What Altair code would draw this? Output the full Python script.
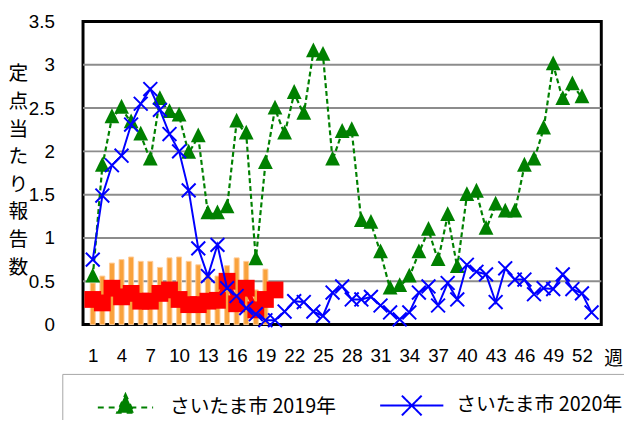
import altair as alt
import pandas as pd

# ---------------- data ----------------
weeks_2019 = list(range(1, 53))
values_2019 = [0.55, 1.83, 2.39, 2.50, 2.33, 2.19, 1.90, 2.60, 2.45, 2.41,
               1.98, 2.17, 1.28, 1.28, 1.35, 2.34, 2.20, 0.75, 1.86, 2.49,
               2.20, 2.67, 2.43, 3.15, 3.11, 1.90, 2.22, 2.24, 1.19, 1.17,
               0.83, 0.41, 0.44, 0.55, 0.83, 1.09, 0.74, 1.26, 0.66, 1.49,
               1.53, 1.10, 1.38, 1.30, 1.30, 1.83, 1.90, 2.26, 3.00, 2.60,
               2.77, 2.62]
weeks_2020 = list(range(1, 54))
values_2020 = [0.75, 1.49, 1.84, 1.95, 2.31, 2.55, 2.72, 2.48, 2.20, 2.00,
               1.55, 0.88, 0.56, 0.92, 0.42, 0.33, 0.19, 0.12, 0.05, 0.05,
               0.15, 0.27, 0.26, 0.15, 0.10, 0.37, 0.44, 0.29, 0.29, 0.32,
               0.22, 0.14, 0.06, 0.14, 0.37, 0.44, 0.22, 0.48, 0.29, 0.69,
               0.61, 0.58, 0.26, 0.65, 0.52, 0.52, 0.35, 0.42, 0.41, 0.58,
               0.41, 0.36, 0.14]
weeks_red = list(range(1, 21))
values_red = [0.29, 0.25, 0.42, 0.32, 0.36, 0.27, 0.27, 0.36, 0.40, 0.29,
              0.23, 0.23, 0.27, 0.28, 0.50, 0.24, 0.42, 0.17, 0.29, 0.40]
weeks_bar = list(range(1, 20))
values_bar = [0.48, 0.56, 0.71, 0.75, 0.78, 0.73, 0.73, 0.66, 0.77, 0.78,
              0.73, 0.69, 0.60, 0.56, 0.68, 0.77, 0.73, 0.40, 0.64]
tick_weeks = list(range(1, 53, 3))
y_ticks = [0, 0.5, 1, 1.5, 2, 2.5, 3, 3.5]
grid_values = [0.5, 1, 1.5, 2, 2.5, 3]
series_names = ["さいたま市 2019年", "さいたま市 2020年"]
y_title = list("定点当たり報告数")

# ---------------- style ----------------
NUM_FONT = "Liberation Sans Narrow, Liberation Sans, sans-serif"
CJK_FONT = "Noto Sans CJK JP"
GREEN = "#008000"
BLUE = "#0000FF"
RED = "#FF0000"

TRI = "M0,-1.25L1,0.75L-1,0.75Z"
XMARK = "M-1,-1L1,1M-1,1L1,-1"
LEG_TRI = "M-3.5,0L3.5,0M0,-1.7L1.06,0.66L-1.06,0.66Z"
LEG_X = "M-4,0L4,0M-1.25,-1.25L1.25,1.25M-1.25,1.25L1.25,-1.25"

df19 = pd.DataFrame({"week": weeks_2019, "value": values_2019})
df20 = pd.DataFrame({"week": weeks_2020, "value": values_2020})
dfred = pd.DataFrame({"week": weeks_red, "value": values_red})
dfbar = pd.DataFrame({"week": weeks_bar, "value": values_bar})
dfgrid = pd.DataFrame({"week": [1] * len(grid_values), "value": grid_values})
dfleg = pd.DataFrame({"series": series_names, "week": [1, 1], "value": [-1, -1]})

xscale = alt.Scale(domain=[0.5, 53.5], nice=False, zero=False)
yscale = alt.Scale(domain=[0, 3.5], nice=False, zero=True)

x_axis = alt.Axis(values=tick_weeks, title="週", titleAngle=0, titleX=537, titleY=34,
                  titleAlign="center", titleBaseline="middle", titleFont=CJK_FONT,
                  titleFontSize=19, titleFontWeight="normal", titleColor="black",
                  labelFont=NUM_FONT, labelFontSize=19, labelColor="black",
                  labelPadding=31, labelBaseline="middle", labelOverlap=False,
                  labelFlush=False, ticks=False, domain=False, grid=False)
y_axis = alt.Axis(values=y_ticks, labelExpr="datum.value + ''", title=y_title,
                  titleAngle=0, titleX=-66, titleY=53, titleAlign="center",
                  titleBaseline="middle", titleLineHeight=28, titleFont=CJK_FONT,
                  titleFontSize=20, titleFontWeight="normal", titleColor="black",
                  labelFont=NUM_FONT, labelFontSize=19, labelColor="black",
                  labelPadding=29, ticks=False, domain=False, grid=False)

X = alt.X("week:Q", scale=xscale, axis=x_axis)
Y = alt.Y("value:Q", scale=yscale, axis=y_axis)

grid = alt.Chart(dfgrid).mark_rule(color="#8c8c8c", strokeWidth=2).encode(
    y=Y, x=alt.value(0), x2=alt.value(525))

bars = alt.Chart(dfbar).mark_bar(size=5, color="#F9A23C", stroke="#FFCB96",
                                 strokeWidth=1).encode(x=X, y=Y)

red_line = alt.Chart(dfred).mark_line(color=RED, strokeWidth=5).encode(x=X, y=Y)
red_pts = alt.Chart(dfred).mark_point(shape="square", size=290, filled=True,
                                      color=RED, opacity=1).encode(x=X, y=Y)

g_line = alt.Chart(df19).mark_line(color=GREEN, strokeWidth=2.2,
                                   strokeDash=[5, 3]).encode(x=X, y=Y)
g_pts = alt.Chart(df19).mark_point(shape=TRI, size=225, filled=True, color=GREEN,
                                   opacity=1).encode(x=X, y=Y)

b_line = alt.Chart(df20).mark_line(color=BLUE, strokeWidth=2).encode(x=X, y=Y)
b_pts = alt.Chart(df20).mark_point(shape=XMARK, size=196, filled=False, color=BLUE,
                                   strokeWidth=2, opacity=1).encode(x=X, y=Y)

legend = alt.Legend(orient="none", legendX=-21, legendY=357, direction="horizontal",
                    title=" ", titleOrient="left", titleFontSize=6, titlePadding=32,
                    padding=22, strokeColor="#a6a6a6", fillColor="white",
                    symbolSize=256, symbolStrokeWidth=2, symbolOpacity=1,
                    labelFont=CJK_FONT, labelFontSize=20, labelColor="black",
                    labelOffset=35, labelLimit=0, columnPadding=40)

leg_layer = alt.Chart(dfleg).mark_point(filled=True, opacity=1, strokeWidth=2).encode(
    x=X, y=Y,
    fill=alt.Fill("series:N", scale=alt.Scale(domain=series_names, range=[GREEN, BLUE]),
                  legend=legend),
    stroke=alt.Stroke("series:N", scale=alt.Scale(domain=series_names, range=[GREEN, BLUE]),
                      legend=legend),
    shape=alt.Shape("series:N", scale=alt.Scale(domain=series_names, range=[LEG_TRI, LEG_X]),
                    legend=legend),
    strokeDash=alt.StrokeDash("series:N",
                              scale=alt.Scale(domain=series_names, range=[[6, 5], [1, 0]]),
                              legend=legend),
).transform_filter("datum.value > 0")

chart = alt.layer(grid, bars, red_line, red_pts, g_line, g_pts, b_line, b_pts, leg_layer).properties(
    width=525, height=307,
    autosize=alt.AutoSizeParams(type="none"),
    padding={"left": 76, "top": 11, "right": 23, "bottom": 94},
    background="white",
).configure_view(stroke="black", strokeWidth=3)

chart.save("out.html", embed_options={"renderer": "svg", "actions": False})
